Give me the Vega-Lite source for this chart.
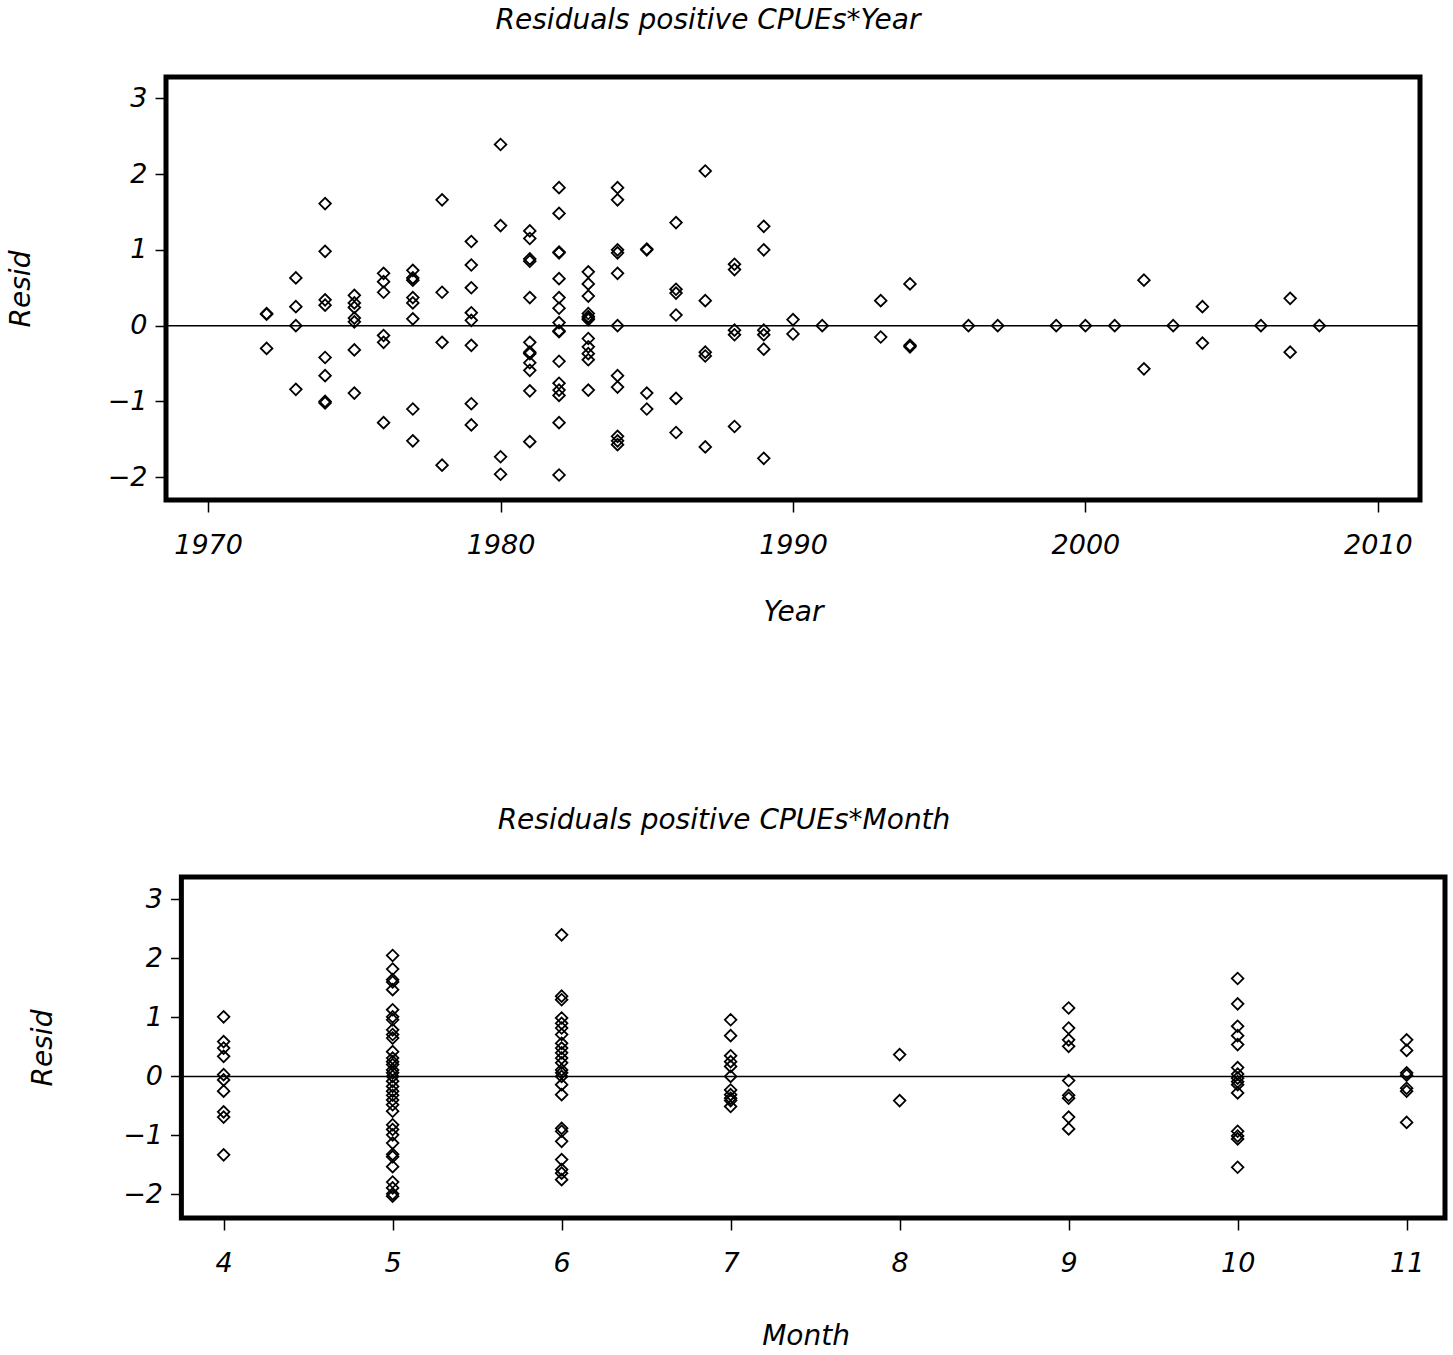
{
  "$schema": "https://vega.github.io/schema/vega-lite/v6.json",
  "background": "white",
  "padding": {"left": 4, "top": 4, "right": 3, "bottom": 3},
  "spacing": 178,
  "config": {
    "font": "DejaVu Sans",
    "view": {"stroke": "black", "strokeWidth": 5},
    "axis": {
      "domain": false, "grid": false,
      "labelFont": "DejaVu Sans", "labelFontStyle": "italic", "labelFontSize": 27, "labelColor": "black",
      "tickColor": "black", "tickWidth": 1.5,
      "titleFont": "DejaVu Sans", "titleFontStyle": "italic", "titleFontWeight": "normal", "titleFontSize": 28, "titleColor": "black"
    },
    "title": {"font": "DejaVu Sans", "fontStyle": "italic", "fontWeight": "normal", "fontSize": 28, "color": "black", "baseline": "alphabetic", "frame": "group", "anchor": "middle"}
  },
  "datasets": {
    "year": [
      {"Year":1972,"Resid":0.15},{"Year":1972,"Resid":0.16},{"Year":1972,"Resid":-0.30},
      {"Year":1973,"Resid":0.63},{"Year":1973,"Resid":0.25},{"Year":1973,"Resid":0.0},{"Year":1973,"Resid":-0.84},
      {"Year":1974,"Resid":1.61},{"Year":1974,"Resid":0.98},{"Year":1974,"Resid":0.34},{"Year":1974,"Resid":0.27},{"Year":1974,"Resid":-0.42},{"Year":1974,"Resid":-0.66},{"Year":1974,"Resid":-1.0},{"Year":1974,"Resid":-1.02},
      {"Year":1975,"Resid":0.40},{"Year":1975,"Resid":0.30},{"Year":1975,"Resid":0.24},{"Year":1975,"Resid":0.10},{"Year":1975,"Resid":0.05},{"Year":1975,"Resid":-0.32},{"Year":1975,"Resid":-0.89},
      {"Year":1976,"Resid":0.69},{"Year":1976,"Resid":0.58},{"Year":1976,"Resid":0.44},{"Year":1976,"Resid":-0.13},{"Year":1976,"Resid":-0.22},{"Year":1976,"Resid":-1.28},
      {"Year":1977,"Resid":0.73},{"Year":1977,"Resid":0.63},{"Year":1977,"Resid":0.60},{"Year":1977,"Resid":0.37},{"Year":1977,"Resid":0.30},{"Year":1977,"Resid":0.09},{"Year":1977,"Resid":-1.10},{"Year":1977,"Resid":-1.52},
      {"Year":1978,"Resid":1.66},{"Year":1978,"Resid":0.44},{"Year":1978,"Resid":-0.22},{"Year":1978,"Resid":-1.84},
      {"Year":1979,"Resid":1.11},{"Year":1979,"Resid":0.80},{"Year":1979,"Resid":0.50},{"Year":1979,"Resid":0.17},{"Year":1979,"Resid":0.07},{"Year":1979,"Resid":-0.26},{"Year":1979,"Resid":-1.03},{"Year":1979,"Resid":-1.31},
      {"Year":1980,"Resid":2.39},{"Year":1980,"Resid":1.32},{"Year":1980,"Resid":-1.73},{"Year":1980,"Resid":-1.96},
      {"Year":1981,"Resid":1.25},{"Year":1981,"Resid":1.15},{"Year":1981,"Resid":0.88},{"Year":1981,"Resid":0.85},{"Year":1981,"Resid":0.37},{"Year":1981,"Resid":-0.22},{"Year":1981,"Resid":-0.35},{"Year":1981,"Resid":-0.37},{"Year":1981,"Resid":-0.49},{"Year":1981,"Resid":-0.59},{"Year":1981,"Resid":-0.86},{"Year":1981,"Resid":-1.53},
      {"Year":1982,"Resid":1.82},{"Year":1982,"Resid":1.48},{"Year":1982,"Resid":0.97},{"Year":1982,"Resid":0.96},{"Year":1982,"Resid":0.62},{"Year":1982,"Resid":0.37},{"Year":1982,"Resid":0.23},{"Year":1982,"Resid":0.04},{"Year":1982,"Resid":-0.07},{"Year":1982,"Resid":-0.08},{"Year":1982,"Resid":-0.47},{"Year":1982,"Resid":-0.76},{"Year":1982,"Resid":-0.85},{"Year":1982,"Resid":-0.92},{"Year":1982,"Resid":-1.28},{"Year":1982,"Resid":-1.97},
      {"Year":1983,"Resid":0.71},{"Year":1983,"Resid":0.55},{"Year":1983,"Resid":0.39},{"Year":1983,"Resid":0.16},{"Year":1983,"Resid":0.12},{"Year":1983,"Resid":0.10},{"Year":1983,"Resid":0.08},{"Year":1983,"Resid":-0.17},{"Year":1983,"Resid":-0.28},{"Year":1983,"Resid":-0.37},{"Year":1983,"Resid":-0.45},{"Year":1983,"Resid":-0.85},
      {"Year":1984,"Resid":1.82},{"Year":1984,"Resid":1.66},{"Year":1984,"Resid":1.00},{"Year":1984,"Resid":0.96},{"Year":1984,"Resid":0.69},{"Year":1984,"Resid":0.0},{"Year":1984,"Resid":-0.66},{"Year":1984,"Resid":-0.81},{"Year":1984,"Resid":-1.46},{"Year":1984,"Resid":-1.52},{"Year":1984,"Resid":-1.57},
      {"Year":1985,"Resid":1.0},{"Year":1985,"Resid":1.01},{"Year":1985,"Resid":-0.89},{"Year":1985,"Resid":-1.10},
      {"Year":1986,"Resid":1.36},{"Year":1986,"Resid":0.48},{"Year":1986,"Resid":0.43},{"Year":1986,"Resid":0.14},{"Year":1986,"Resid":-0.96},{"Year":1986,"Resid":-1.41},
      {"Year":1987,"Resid":2.04},{"Year":1987,"Resid":0.33},{"Year":1987,"Resid":-0.35},{"Year":1987,"Resid":-0.40},{"Year":1987,"Resid":-1.60},
      {"Year":1988,"Resid":0.81},{"Year":1988,"Resid":0.74},{"Year":1988,"Resid":-0.06},{"Year":1988,"Resid":-0.12},{"Year":1988,"Resid":-1.33},
      {"Year":1989,"Resid":1.31},{"Year":1989,"Resid":1.0},{"Year":1989,"Resid":-0.06},{"Year":1989,"Resid":-0.12},{"Year":1989,"Resid":-0.31},{"Year":1989,"Resid":-1.75},
      {"Year":1990,"Resid":0.08},{"Year":1990,"Resid":-0.11},
      {"Year":1991,"Resid":0.0},
      {"Year":1993,"Resid":0.33},{"Year":1993,"Resid":-0.15},
      {"Year":1994,"Resid":0.55},{"Year":1994,"Resid":-0.26},{"Year":1994,"Resid":-0.28},
      {"Year":1996,"Resid":0.0},{"Year":1997,"Resid":0.0},{"Year":1999,"Resid":0.0},{"Year":2000,"Resid":0.0},{"Year":2001,"Resid":0.0},
      {"Year":2002,"Resid":0.60},{"Year":2002,"Resid":-0.57},
      {"Year":2003,"Resid":0.0},
      {"Year":2004,"Resid":0.25},{"Year":2004,"Resid":-0.23},
      {"Year":2006,"Resid":0.0},
      {"Year":2007,"Resid":0.36},{"Year":2007,"Resid":-0.35},
      {"Year":2008,"Resid":0.0}
    ],
    "month": [
      {"Month":4,"Resid":1.01},{"Month":4,"Resid":0.59},{"Month":4,"Resid":0.48},{"Month":4,"Resid":0.34},{"Month":4,"Resid":0.03},{"Month":4,"Resid":-0.06},{"Month":4,"Resid":-0.25},{"Month":4,"Resid":-0.60},{"Month":4,"Resid":-0.69},{"Month":4,"Resid":-1.33},
      {"Month":5,"Resid":2.05},{"Month":5,"Resid":1.82},{"Month":5,"Resid":1.64},{"Month":5,"Resid":1.60},{"Month":5,"Resid":1.47},{"Month":5,"Resid":1.13},{"Month":5,"Resid":1.01},{"Month":5,"Resid":0.96},{"Month":5,"Resid":0.79},{"Month":5,"Resid":0.71},{"Month":5,"Resid":0.65},{"Month":5,"Resid":0.42},{"Month":5,"Resid":0.31},{"Month":5,"Resid":0.25},{"Month":5,"Resid":0.20},{"Month":5,"Resid":0.11},{"Month":5,"Resid":0.06},{"Month":5,"Resid":0.0},{"Month":5,"Resid":-0.08},{"Month":5,"Resid":-0.17},{"Month":5,"Resid":-0.25},{"Month":5,"Resid":-0.32},{"Month":5,"Resid":-0.40},{"Month":5,"Resid":-0.48},{"Month":5,"Resid":-0.59},{"Month":5,"Resid":-0.82},{"Month":5,"Resid":-0.90},{"Month":5,"Resid":-0.99},{"Month":5,"Resid":-1.13},{"Month":5,"Resid":-1.32},{"Month":5,"Resid":-1.36},{"Month":5,"Resid":-1.53},{"Month":5,"Resid":-1.79},{"Month":5,"Resid":-1.89},{"Month":5,"Resid":-1.99},{"Month":5,"Resid":-2.03},
      {"Month":6,"Resid":2.40},{"Month":6,"Resid":1.36},{"Month":6,"Resid":1.30},{"Month":6,"Resid":0.99},{"Month":6,"Resid":0.90},{"Month":6,"Resid":0.82},{"Month":6,"Resid":0.71},{"Month":6,"Resid":0.56},{"Month":6,"Resid":0.48},{"Month":6,"Resid":0.40},{"Month":6,"Resid":0.31},{"Month":6,"Resid":0.23},{"Month":6,"Resid":0.11},{"Month":6,"Resid":0.06},{"Month":6,"Resid":0.0},{"Month":6,"Resid":-0.14},{"Month":6,"Resid":-0.31},{"Month":6,"Resid":-0.88},{"Month":6,"Resid":-0.93},{"Month":6,"Resid":-1.10},{"Month":6,"Resid":-1.41},{"Month":6,"Resid":-1.58},{"Month":6,"Resid":-1.64},{"Month":6,"Resid":-1.75},
      {"Month":7,"Resid":0.96},{"Month":7,"Resid":0.69},{"Month":7,"Resid":0.35},{"Month":7,"Resid":0.25},{"Month":7,"Resid":0.17},{"Month":7,"Resid":0.0},{"Month":7,"Resid":-0.23},{"Month":7,"Resid":-0.31},{"Month":7,"Resid":-0.37},{"Month":7,"Resid":-0.41},{"Month":7,"Resid":-0.51},
      {"Month":8,"Resid":0.37},{"Month":8,"Resid":-0.41},
      {"Month":9,"Resid":1.16},{"Month":9,"Resid":0.82},{"Month":9,"Resid":0.62},{"Month":9,"Resid":0.51},{"Month":9,"Resid":-0.07},{"Month":9,"Resid":-0.32},{"Month":9,"Resid":-0.37},{"Month":9,"Resid":-0.69},{"Month":9,"Resid":-0.89},
      {"Month":10,"Resid":1.66},{"Month":10,"Resid":1.23},{"Month":10,"Resid":0.85},{"Month":10,"Resid":0.69},{"Month":10,"Resid":0.54},{"Month":10,"Resid":0.15},{"Month":10,"Resid":0.04},{"Month":10,"Resid":-0.03},{"Month":10,"Resid":-0.09},{"Month":10,"Resid":-0.14},{"Month":10,"Resid":-0.28},{"Month":10,"Resid":-0.93},{"Month":10,"Resid":-1.01},{"Month":10,"Resid":-1.06},{"Month":10,"Resid":-1.54},
      {"Month":11,"Resid":0.62},{"Month":11,"Resid":0.44},{"Month":11,"Resid":0.06},{"Month":11,"Resid":0.02},{"Month":11,"Resid":-0.20},{"Month":11,"Resid":-0.25},{"Month":11,"Resid":-0.78}
    ]
  },
  "vconcat": [
    {
      "title": {"text": "Residuals  positive  CPUEs*Year", "dx": -85, "offset": 42},
      "width": 1254,
      "height": 423,
      "layer": [
        {
          "data": {"name": "year"},
          "mark": {"type": "point", "shape": "diamond", "filled": false, "size": 135, "stroke": "black", "strokeWidth": 1.8, "opacity": 1},
          "encoding": {
            "x": {"field": "Year", "type": "quantitative", "scale": {"domain": [1968.56, 2011.44], "nice": false, "zero": false},
                  "axis": {"values": [1970, 1980, 1990, 2000, 2010], "format": "d", "tickSize": 12, "labelPadding": 20, "titlePadding": 40}},
            "y": {"field": "Resid", "type": "quantitative", "scale": {"domain": [-2.3, 3.28], "nice": false, "zero": false},
                  "axis": {"values": [-2, -1, 0, 1, 2, 3], "format": "d", "tickSize": 11, "labelPadding": 8, "titlePadding": 72}}
          }
        },
        {
          "data": {"values": [{}]},
          "mark": {"type": "rule", "color": "black", "strokeWidth": 1.5},
          "encoding": {"y": {"datum": 0, "type": "quantitative"}}
        }
      ]
    },
    {
      "title": {"text": "Residuals  positive  CPUEs*Month", "dx": -81.5, "offset": 39.5},
      "width": 1279,
      "height": 341,
      "view": {"stroke": null},
      "layer": [
        {
          "data": {"name": "month"},
          "mark": {"type": "point", "shape": "diamond", "filled": false, "size": 135, "stroke": "black", "strokeWidth": 1.8, "opacity": 1},
          "encoding": {
            "x": {"field": "Month", "type": "quantitative", "scale": {"domain": [3.659, 11.227], "nice": false, "zero": false},
                  "axis": {"values": [4, 5, 6, 7, 8, 9, 10, 11], "format": "d", "tickSize": 12, "labelPadding": 20, "titlePadding": 46.5}},
            "y": {"field": "Resid", "type": "quantitative", "scale": {"domain": [-2.4, 3.38], "nice": false, "zero": false},
                  "axis": {"values": [-2, -1, 0, 1, 2, 3], "format": "d", "tickSize": 11, "labelPadding": 8, "titlePadding": 65, "offset": -15.5}}
          }
        },
        {
          "data": {"values": [{}]},
          "mark": {"type": "rect", "filled": false, "stroke": "black", "strokeWidth": 5},
          "encoding": {
            "x": {"datum": 3.75, "type": "quantitative"},
            "x2": {"datum": 11.227},
            "y": {"datum": -2.4, "type": "quantitative"},
            "y2": {"datum": 3.38}
          }
        },
        {
          "data": {"values": [{}]},
          "mark": {"type": "rule", "color": "black", "strokeWidth": 1.5},
          "encoding": {
            "y": {"datum": 0, "type": "quantitative"},
            "x": {"datum": 3.75, "type": "quantitative"},
            "x2": {"datum": 11.227}
          }
        }
      ]
    }
  ]
}
